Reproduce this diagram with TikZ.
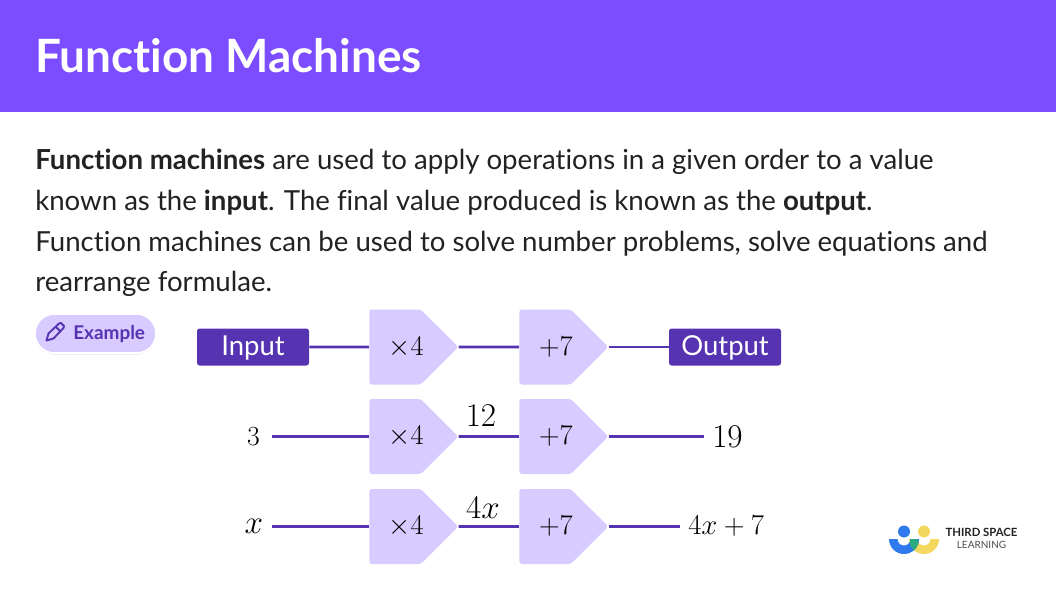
\documentclass[tikz,border=0pt]{standalone}
\usepackage{fontspec}
\setmainfont{Lato}[Ligatures=NoCommon]
\usetikzlibrary{shapes.symbols, shadows}
\definecolor{headpurple}{HTML}{7C4DFF}
\definecolor{deeppurple}{HTML}{5533B1}
\definecolor{palepurple}{HTML}{D7CBFF}
\definecolor{textgrey}{HTML}{222222}
\definecolor{logoblue}{HTML}{2F7BEE}
\definecolor{logoyellow}{HTML}{F2D85F}
\definecolor{logogreen}{HTML}{2BAA80}
\newcommand{\logoring}[1]{(#1-15,539) arc[start angle=180, end angle=360, radius=11.25pt] -- (#1+6.5,539) arc[start angle=360, end angle=180, radius=4.875pt] -- cycle}
\newcommand{\optext}[1]{\makebox[0pt][c]{\hspace{16.5pt}\scalebox{1.03}{#1}}}

\begin{document}
\begin{tikzpicture}[x=0.75pt, y=-0.75pt]
  \tikzset{machine/.style = {shape=signal, signal to=east, signal pointer angle=90, fill=palepurple, minimum width=66.75pt, minimum height=56.25pt, inner sep=0pt, rounded corners=2pt, font=\fontsize{22}{26}\selectfont}}
  \tikzset{endbox/.style = {fill=deeppurple, text=white, rounded corners=2pt, minimum width=84pt, minimum height=27.75pt, inner sep=0pt, text height=15pt, text depth=1.8pt, font=\fontsize{20.6}{24}\selectfont}}
  \tikzset{value/.style = {inner ysep=0pt, inner xsep=6pt, font=\fontsize{25.5}{30}\selectfont}}
  \tikzset{carried/.style = {inner sep=0pt, font=\fontsize{25.5}{30}\selectfont}}
  \tikzset{edge/.style = {-, draw=deeppurple, line width=2.2pt}}

  \useasboundingbox (0,0) rectangle (1056,600);
  \fill[white] (0,0) rectangle (1056,600);
  \fill[headpurple] (0,0) rectangle (1056,112);

  \node[anchor=west, inner sep=0pt, text=white, font=\bfseries\fontsize{34.4}{41}\selectfont] (title) at (35,55.5) {Function Machines};
  \node[anchor=north west, inner sep=0pt, align=left, text=textgrey, font=\fontsize{20.7}{30.5}\selectfont] (body) at (35,149) {\textbf{Function machines} are used to apply operations in a given order to a value\\
    known as the \textbf{input}. The final value produced is known as the \textbf{output}.\\
    Function machines can be used to solve number problems, solve equations and\\
    rearrange formulae.};

  \node[rounded corners=14.6pt, fill=palepurple, draw=white, line width=1.5pt, minimum width=91pt, minimum height=29.5pt, drop shadow={opacity=0.25, shadow xshift=0pt, shadow yshift=-1pt}] (example) at (95.5,333.5) {};
  \node[anchor=west, inner sep=0pt, text=deeppurple, font=\bfseries\fontsize{14.2}{17}\selectfont] (exampletext) at (73,334) {Example};
  \draw[deeppurple, line width=1.4pt, line join=round] (46.5,340.5) -- (48.5,333.5) -- (59,323.5) -- (61,323) -- (64,326) -- (63.5,328) -- (53.5,338.5) -- cycle (55.5,326.5) -- (61,332);

  \node[endbox] (input) at (253,347) {Input};
  \node[machine] (a1) at (395,347) {\optext{$\times 4$}};
  \node[machine] (a2) at (545,347) {\optext{$+7$}};
  \node[endbox] (output) at (725,347) {Output};
  \draw[edge] (input) -- (a1);
  \draw[edge] (a1.east) -- (a2);
  \draw[edge] (a2.east) -- (a2.east -| output.west);

  \node[value, anchor=east, inner xsep=9pt, font=\fontsize{22}{26}\selectfont] (b0) at (272,436.5) {$3$};
  \node[machine] (b1) at (395,436.5) {\optext{$\times 4$}};
  \node[machine] (b2) at (545,436.5) {\optext{$+7$}};
  \node[value, anchor=west] (b3) at (704,436.5) {$19$};
  \node[carried] (b4) at (481,416) {$12$};
  \draw[edge] (b0) -- (b1);
  \draw[edge] (b1.east) -- (b2);
  \draw[edge] (b2.east) -- (b3);

  \node[value, anchor=east, inner xsep=6.5pt] (c0) at (272,526.5) {$x$};
  \node[machine] (c1) at (395,526.5) {\optext{$\times 4$}};
  \node[machine] (c2) at (545,526.5) {\optext{$+7$}};
  \node[value, anchor=west, font=\fontsize{22.7}{27}\selectfont] (c3) at (680,526.5) {\scalebox{1.04}{$4x+7$}};
  \node[carried] (c4) at (483,508) {$4x$};
  \draw[edge] (c0) -- (c1);
  \draw[edge] (c1.east) -- (c2);
  \draw[edge] (c2.east) -- (c3);

  \fill[logoyellow] \logoring{924};
  \fill[logoblue] \logoring{904};
  \begin{scope}
    \clip \logoring{904};
    \fill[logogreen] \logoring{924};
  \end{scope}
  \fill[logoblue] (904,531.5) circle[radius=4.5pt];
  \fill[logoyellow] (924,531.5) circle[radius=4.5pt];
  \node[inner sep=0pt, text=textgrey, font=\bfseries\fontsize{8.5}{10}\selectfont] (third) at (981.5,532) {THIRD SPACE};
  \node[inner sep=0pt, text=textgrey!80, font=\fontsize{7.5}{9}\selectfont] (learning) at (981.5,545) {LEARNING};
\end{tikzpicture}
\end{document}
